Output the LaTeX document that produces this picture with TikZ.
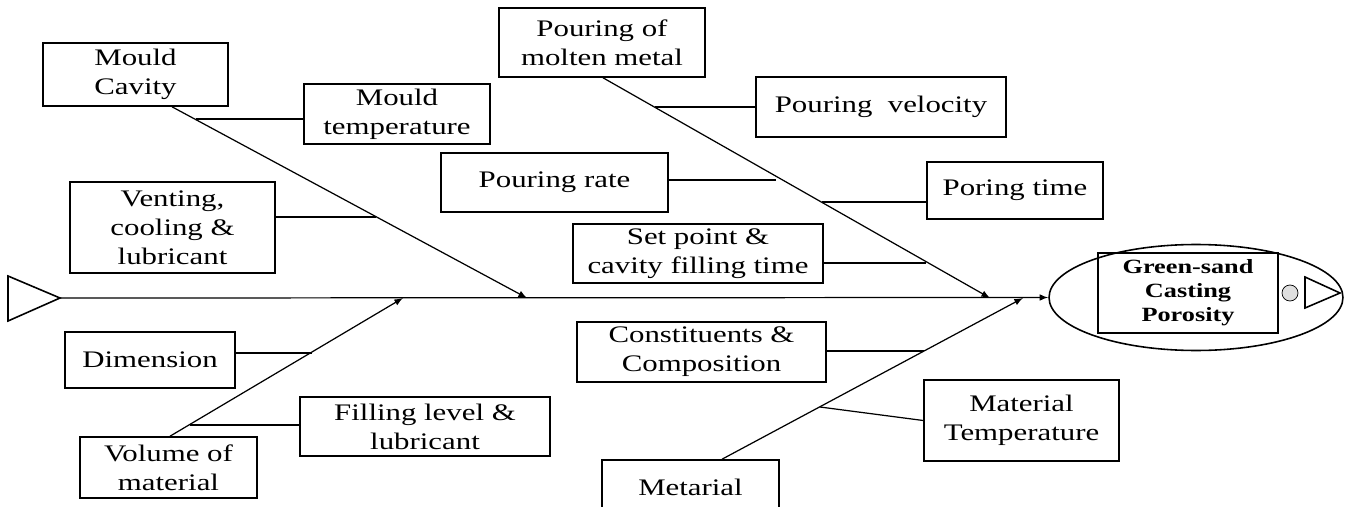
\documentclass[tikz,border=0pt]{standalone}
\usepackage{fontspec}
\setmainfont{Liberation Serif}[FakeStretch=1.3]
\usepackage{tikz}
\usetikzlibrary{shapes.geometric}
\usetikzlibrary{positioning}
\usepgflibrary{arrows}

\begin{document}
\begin{tikzpicture}[x=0.02cm, y=-0.02cm, >=latex]

\tikzset{
  cause/.style={draw, line width=0.9pt, align=center, inner sep=2pt,
                font=\fontsize{13.5}{16.4}\selectfont},
  bone/.style={line width=0.7pt},
  rib/.style={line width=0.7pt}
}

% Rahmen
\useasboundingbox (0,0) rectangle (1347,507);
\clip (0,0) rectangle (1347,507);

% Wirkung (Kopf)
\node[draw, ellipse, line width=0.9pt, minimum width=5.88cm, minimum height=2.12cm] (effect) at (1196,297.5) {};
\node[draw, line width=0.9pt, minimum width=3.6cm, minimum height=1.6cm, align=center,
      font=\bfseries\fontsize{11.5}{13.6}\selectfont] (effbox) at (1188,293) {Green-sand\\Casting\\Porosity};
\node[circle, draw, fill=gray!25, minimum size=0.32cm, inner sep=0pt] (dot) at (1290,293) {};
\draw[line width=0.9pt] (1305,277) -- (1340,293) -- (1305,308) -- cycle;

% Schwanz
\draw[line width=0.9pt] (8,276) -- (60,298) -- (8,321) -- cycle;
\coordinate (tail) at (60,298);

% Hauptgraete
\draw[bone,->] (tail) -- (effect.west);

% Ursachen
\node[cause, minimum width=3.7cm, minimum height=1.26cm] (mould) at (135.5,74.5) {Mould\\Cavity};
\node[cause, minimum width=3.72cm, minimum height=1.2cm] (mtemp) at (397,114) {Mould\\temperature};
\node[cause, minimum width=4.1cm, minimum height=1.82cm] (vent) at (172.5,227.5) {Venting,\\cooling \&\\lubricant};
\node[cause, minimum width=3.4cm, minimum height=1.12cm] (dim) at (150,360) {Dimension};
\node[cause, minimum width=3.54cm, minimum height=1.22cm] (vol) at (168.5,467.5) {Volume of\\material};
\node[cause, minimum width=5.0cm, minimum height=1.18cm] (fill) at (425,426.5) {Filling level \&\\lubricant};
\node[cause, minimum width=4.12cm, minimum height=1.38cm] (pour) at (602,42.5) {Pouring of\\molten metal};
\node[cause, minimum width=5.0cm, minimum height=1.2cm] (pvel) at (881,107) {Pouring\ \ velocity};
\node[cause, minimum width=4.54cm, minimum height=1.18cm] (prate) at (554.5,182.5) {Pouring rate};
\node[cause, minimum width=3.52cm, minimum height=1.14cm] (ptime) at (1015,190.5) {Poring time};
\node[cause, minimum width=5.0cm, minimum height=1.18cm] (setpt) at (698,253.5) {Set point \&\\cavity filling time};
\node[cause, minimum width=4.98cm, minimum height=1.2cm] (const) at (701.5,352) {Constituents \&\\Composition};
\node[cause, minimum width=3.9cm, minimum height=1.62cm] (mattemp) at (1021.5,420.5) {Material\\Temperature};
\node[cause, minimum width=3.54cm, minimum height=1.1cm] (metal) at (690.5,487.5) {Metarial};

% Punkte auf den Graeten
\coordinate (ma) at (172,0);   \coordinate (ja) at (527,298);
\coordinate (mb) at (170,0);   \coordinate (jb) at (403,298);
\coordinate (mc) at (603,0);   \coordinate (jc) at (990,298);
\coordinate (md) at (722,0);   \coordinate (jd) at (1023,298);
\coordinate (a1) at (196,119); \coordinate (a2) at (376,217);
\coordinate (b1) at (312,353); \coordinate (b2) at (190,425);
\coordinate (c1) at (655,107); \coordinate (c2) at (776,180);
\coordinate (c3) at (822,202); \coordinate (c4) at (926,263);
\coordinate (d1) at (924,351); \coordinate (d2) at (820,407);

% Nebengraeten
\draw[bone,->] (mould.south -| ma) -- (ja);
\draw[bone,->] (vol.north -| mb) -- (jb);
\draw[bone,->] (pour.south -| mc) -- (jc);
\draw[bone,->] (metal.north -| md) -- (jd);

% Rippen
\draw[rib] (mtemp.west |- a1) -- (a1);
\draw[rib] (vent.east |- a2) -- (a2);
\draw[rib] (dim.east |- b1) -- (b1);
\draw[rib] (fill.west |- b2) -- (b2);
\draw[rib] (pvel.west |- c1) -- (c1);
\draw[rib] (prate.east |- c2) -- (c2);
\draw[rib] (ptime.west |- c3) -- (c3);
\draw[rib] (setpt.east |- c4) -- (c4);
\draw[rib] (const.east |- d1) -- (d1);
\draw[rib] (d2) -- (mattemp.west);

\end{tikzpicture}
\end{document}
